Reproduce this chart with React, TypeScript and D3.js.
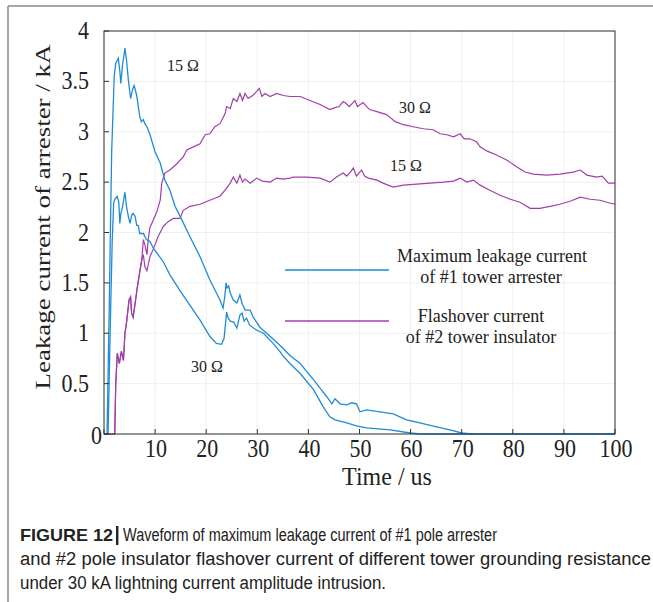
import React from "react";
import * as d3 from "d3";

type Pt = [number, number];

const xTicks = [0, 10, 20, 30, 40, 50, 60, 70, 80, 90, 100];
const xTickLabels = ["", "10", "20", "30", "40", "50", "60", "70", "80", "90", "100"];
const yTicks = [0, 0.5, 1, 1.5, 2, 2.5, 3, 3.5, 4];
const yTickLabels = ["0", "0.5", "1", "1.5", "2", "2.5", "3", "3.5", "4"];

const legendLabels = [
  ["Maximum leakage current", "of #1 tower arrester"],
  ["Flashover current", "of #2 tower insulator"],
];
const curveLabels = ["15 Ω", "30 Ω", "15 Ω", "30 Ω"];

const arrester15: Pt[] = [
  [0, 0], [0.6, 0], [1.0, 1.2], [1.5, 2.8], [2.0, 3.55], [2.3, 3.68], [2.8, 3.73], [3.1, 3.6], [3.3, 3.48],
  [3.6, 3.65], [4.1, 3.83], [4.4, 3.71], [4.8, 3.5], [5.2, 3.33], [5.6, 3.42], [5.9, 3.46], [6.4, 3.36],
  [6.8, 3.22], [7.0, 3.15], [7.3, 3.1], [7.7, 3.12], [8.0, 3.08], [8.4, 3.05], [9.0, 2.97], [10, 2.8],
  [11, 2.69], [11.9, 2.52], [12.9, 2.42], [13.9, 2.26], [14.9, 2.16], [16.8, 1.96], [18.8, 1.76],
  [20.7, 1.53], [22.0, 1.4], [22.7, 1.33], [23.3, 1.25], [23.6, 1.35], [23.9, 1.5], [24.1, 1.45],
  [24.4, 1.47], [24.7, 1.4], [25.3, 1.33], [26.0, 1.3], [26.6, 1.38], [27.0, 1.3], [27.6, 1.23],
  [28.6, 1.23], [29.2, 1.16], [30.5, 1.06], [32.5, 0.97], [34.4, 0.88], [36.4, 0.78], [38.4, 0.7],
  [40, 0.6], [41, 0.54], [42.5, 0.44], [43.6, 0.37], [44.6, 0.3], [45.2, 0.35], [46.2, 0.3], [47.5, 0.29],
  [48.5, 0.31], [49.4, 0.3], [50.1, 0.22], [51.4, 0.24], [54, 0.22], [56.6, 0.2], [59.2, 0.14],
  [61.8, 0.11], [65.1, 0.07], [67.7, 0.04], [70, 0.01], [72, 0], [100, 0],
];

const arrester30: Pt[] = [
  [0, 0], [0.8, 0], [1.2, 1.0], [1.6, 1.9], [1.9, 2.3], [2.2, 2.34], [2.6, 2.36], [2.9, 2.3], [3.1, 2.09],
  [3.3, 2.19], [3.6, 2.25], [4.1, 2.4], [4.4, 2.26], [4.8, 2.15], [5.1, 2.09], [5.4, 2.17], [5.7, 2.19],
  [6.1, 2.16], [6.4, 2.07], [6.7, 2.07], [7.0, 1.99], [7.7, 1.99], [8.3, 1.93], [9.0, 1.91], [9.6, 1.85],
  [10.3, 1.8], [11.6, 1.71], [12.9, 1.58], [14.9, 1.42], [16.8, 1.28], [18.8, 1.13], [20.7, 0.97],
  [22, 0.9], [23, 0.89], [23.5, 0.95], [24, 1.21], [24.3, 1.15], [24.7, 1.12], [25.4, 1.11], [26, 1.05],
  [26.6, 1.18], [27, 1.2], [27.4, 1.12], [27.9, 1.15], [28.5, 1.08], [29.9, 1.03], [31.2, 1.0],
  [33.1, 0.9], [34.4, 0.82], [35.1, 0.77], [36.4, 0.7], [38.4, 0.6], [41, 0.44], [42.9, 0.27],
  [44.2, 0.17], [45.2, 0.14], [47.5, 0.11], [49.4, 0.08], [51.4, 0.06], [56, 0.04], [59.9, 0.01],
  [62, 0], [100, 0],
];

const flash30: Pt[] = [
  [0, 0], [2.1, 0], [2.3, 0.5], [2.6, 0.8], [3.0, 0.7], [3.4, 0.82], [3.8, 0.73], [4.1, 1.0], [4.4, 1.1],
  [4.9, 1.33], [5.2, 1.36], [5.4, 1.2], [5.7, 1.16], [6.1, 1.3], [6.5, 1.45], [6.9, 1.58], [7.4, 1.73],
  [7.7, 1.93], [8.0, 1.88], [8.4, 1.78], [8.7, 1.95], [9.0, 2.05], [9.6, 2.12], [10.3, 2.2], [11.0, 2.32],
  [11.3, 2.49], [11.9, 2.59], [12.9, 2.62], [14.2, 2.68], [15.5, 2.75], [16.2, 2.82], [17.5, 2.85],
  [18.8, 2.88], [19.8, 2.97], [20.7, 2.98], [21.7, 3.05], [22.7, 3.08], [23.7, 3.18], [24, 3.25],
  [24.7, 3.23], [25.3, 3.33], [26, 3.3], [26.6, 3.38], [27.1, 3.31], [27.6, 3.38], [28.2, 3.33],
  [29.1, 3.36], [29.9, 3.4], [30.4, 3.43], [30.9, 3.35], [31.5, 3.38], [32.5, 3.35], [33.8, 3.38],
  [35.1, 3.36], [36.4, 3.35], [38.4, 3.35], [40.3, 3.31], [42.3, 3.27], [44.2, 3.22], [45.2, 3.24],
  [46.0, 3.25], [46.8, 3.3], [47.4, 3.28], [48.0, 3.25], [49.1, 3.31], [49.6, 3.25], [50.7, 3.29],
  [51.4, 3.25], [52, 3.22], [53.4, 3.2], [55.3, 3.17], [57, 3.1], [58.6, 3.07], [60.5, 3.05],
  [62.5, 3.03], [64.4, 3.02], [65.8, 2.98], [67.1, 2.97], [68.4, 2.95], [69.7, 2.98], [70.5, 2.93],
  [71.6, 2.93], [72.9, 2.9], [73.6, 2.85], [74.9, 2.81], [76.8, 2.77], [78.8, 2.72], [80.8, 2.65],
  [82.4, 2.6], [84, 2.58], [86.6, 2.57], [89.2, 2.58], [91.8, 2.6], [93.2, 2.62], [94.5, 2.57],
  [96.4, 2.55], [97.5, 2.56], [98.7, 2.49], [100, 2.49],
];

const flash15: Pt[] = [
  [0, 0], [2.1, 0], [2.3, 0.5], [2.6, 0.8], [3.0, 0.7], [3.4, 0.82], [3.8, 0.73], [4.1, 1.0], [4.4, 1.1],
  [4.9, 1.33], [5.2, 1.36], [5.4, 1.2], [5.7, 1.16], [6.1, 1.3], [6.5, 1.45], [6.9, 1.58], [7.4, 1.73],
  [7.7, 1.78], [8.0, 1.66], [8.4, 1.62], [9.0, 1.76], [9.6, 1.83], [10.6, 1.96], [11.6, 2.06],
  [12.6, 2.11], [13.6, 2.14], [14.9, 2.14], [15.5, 2.22], [16.2, 2.24], [16.8, 2.26], [18.8, 2.28],
  [20.7, 2.32], [22.7, 2.36], [23.7, 2.42], [24.7, 2.49], [25.3, 2.55], [26, 2.49], [26.6, 2.57],
  [27.1, 2.5], [27.6, 2.53], [28.6, 2.49], [29.9, 2.54], [31, 2.51], [32.5, 2.5], [33.8, 2.54],
  [35, 2.53], [36.4, 2.54], [37, 2.55], [39.7, 2.55], [42.3, 2.54], [44.2, 2.5], [45.5, 2.55],
  [46.8, 2.59], [47.5, 2.56], [48.2, 2.6], [48.8, 2.64], [49.4, 2.56], [50.4, 2.62], [51, 2.56],
  [51.7, 2.54], [53.4, 2.52], [54.6, 2.49], [56.6, 2.45], [58.6, 2.47], [61.2, 2.48], [63.8, 2.49],
  [66.4, 2.5], [68.4, 2.51], [69.7, 2.54], [71, 2.5], [72.3, 2.52], [73.6, 2.47], [75.5, 2.42],
  [77.5, 2.37], [79.5, 2.33], [81.4, 2.3], [83.4, 2.24], [85.3, 2.24], [87.3, 2.26], [89.2, 2.28],
  [91.2, 2.31], [93.2, 2.35], [95.1, 2.33], [97.1, 2.32], [98.4, 2.3], [100, 2.28],
];

const BLUE = "#1f8bd6";
const PURPLE = "#a23eab";
const SERIF = "'Liberation Serif', 'Times New Roman', serif";
const SANS = "'Liberation Sans', Arial, sans-serif";

function SText(props: {
  x: number; y: number; sy?: number; size: number; anchor?: string; family?: string;
  weight?: string | number; children: React.ReactNode; textLength?: number;
}) {
  const { x, y, sy = 1, size, anchor = "start", family = SERIF, weight = "normal", children, textLength } = props;
  return (
    <text
      transform={`translate(${x},${y}) scale(1,${sy})`}
      fontSize={size}
      fontFamily={family}
      fontWeight={weight}
      textAnchor={anchor}
      fill="#222"
      textLength={textLength}
      lengthAdjust={textLength ? "spacingAndGlyphs" : undefined}
    >
      {children}
    </text>
  );
}

export default function App() {
  const L = 104, R = 615, T = 31, B = 434;
  const x = d3.scaleLinear().domain([0, 100]).range([L, R]);
  const y = d3.scaleLinear().domain([0, 4]).range([B, T]);
  const line = d3.line<Pt>().x((d) => x(d[0])).y((d) => y(d[1]));

  return (
    <svg width={653} height={602} style={{ position: "absolute", left: 0, top: 0, background: "#fff" }}>
      <rect x={0} y={0} width={653} height={602} fill="#fff" />
      {/* figure frame */}
      <line x1={8} y1={6} x2={653} y2={6} stroke="#8a8a8a" strokeWidth={1.5} />
      <line x1={8} y1={6} x2={8} y2={602} stroke="#8a8a8a" strokeWidth={1.5} />

      {/* grid */}
      {xTicks.map((t) => (
        <line key={"gx" + t} x1={x(t)} x2={x(t)} y1={T} y2={B} stroke="#efefef" strokeWidth={1} />
      ))}
      {yTicks.map((t) => (
        <line key={"gy" + t} x1={L} x2={R} y1={y(t)} y2={y(t)} stroke="#efefef" strokeWidth={1} />
      ))}

      {/* curves */}
      <path d={line(flash30) || ""} fill="none" stroke={PURPLE} strokeWidth={1.2} />
      <path d={line(flash15) || ""} fill="none" stroke={PURPLE} strokeWidth={1.2} />
      <path d={line(arrester15) || ""} fill="none" stroke={BLUE} strokeWidth={1.3} />
      <path d={line(arrester30) || ""} fill="none" stroke={BLUE} strokeWidth={1.3} />

      {/* axes box */}
      <rect x={L} y={T} width={R - L} height={B - T} fill="none" stroke="#333" strokeWidth={1} />
      {xTicks.map((t) => (
        <line key={"tx" + t} x1={x(t)} x2={x(t)} y1={B} y2={B - 5} stroke="#333" />
      ))}
      {yTicks.map((t) => (
        <line key={"ty" + t} x1={L} x2={L + 5} y1={y(t)} y2={y(t)} stroke="#333" />
      ))}

      {/* tick labels */}
      {xTicks.map((t, i) =>
        xTickLabels[i] ? (
          <SText key={"lx" + t} x={x(t) + 1} y={457} sy={1.12} size={22} anchor="middle">
            {xTickLabels[i]}
          </SText>
        ) : null
      )}
      {yTicks.map((t, i) =>
        i === 0 ? (
          <SText key={"ly" + t} x={102} y={444} sy={1.12} size={22} anchor="end">
            {yTickLabels[i]}
          </SText>
        ) : (
          <SText key={"ly" + t} x={89} y={y(t) + 8} sy={1.12} size={22} anchor="end">
            {yTickLabels[i]}
          </SText>
        )
      )}

      {/* axis titles */}
      <text
        transform={`translate(50,217) rotate(-90)`}
        fontSize={22}
        fontFamily={SERIF}
        textAnchor="middle"
        fill="#222"
        textLength={345}
        lengthAdjust="spacingAndGlyphs"
      >
        Leakage current of arrester / kA
      </text>
      <SText x={387} y={485} sy={1.08} size={24} anchor="middle">Time / us</SText>

      {/* curve labels */}
      <SText x={183} y={71} sy={1.07} size={16} anchor="middle">{curveLabels[0]}</SText>
      <SText x={415} y={113} sy={1.07} size={16} anchor="middle">{curveLabels[1]}</SText>
      <SText x={406} y={171} sy={1.07} size={16} anchor="middle">{curveLabels[2]}</SText>
      <SText x={207} y={372} sy={1.07} size={16} anchor="middle">{curveLabels[3]}</SText>

      {/* legend */}
      <line x1={285} x2={389} y1={270} y2={270} stroke={BLUE} strokeWidth={1.5} />
      <line x1={285} x2={389} y1={321} y2={321} stroke={PURPLE} strokeWidth={1.5} />
      <SText x={492} y={262} size={18} anchor="middle">{legendLabels[0][0]}</SText>
      <SText x={491} y={283} size={18} anchor="middle">{legendLabels[0][1]}</SText>
      <SText x={481} y={322} size={18} anchor="middle">{legendLabels[1][0]}</SText>
      <SText x={481} y={343} size={18} anchor="middle">{legendLabels[1][1]}</SText>

      {/* caption */}
      <SText x={20} y={541} size={17} family={SANS} weight="bold" textLength={93}>FIGURE 12</SText>
      <rect x={116} y={526} width={2.4} height={19} fill="#222" />
      <SText x={123} y={541} size={17} sy={1.05} family={SANS} textLength={374}>
        Waveform of maximum leakage current of #1 pole arrester
      </SText>
      <SText x={20} y={565} size={17} sy={1.05} family={SANS} textLength={631}>
        and #2 pole insulator flashover current of different tower grounding resistance
      </SText>
      <SText x={20} y={589} size={17} sy={1.05} family={SANS} textLength={366}>
        under 30 kA lightning current amplitude intrusion.
      </SText>
    </svg>
  );
}
